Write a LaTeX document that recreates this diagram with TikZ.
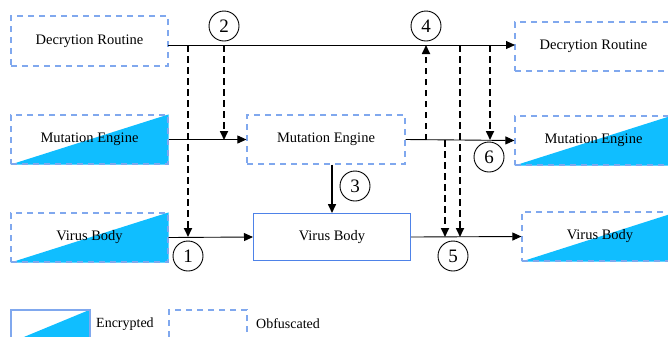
\documentclass[tikz,border=0pt]{standalone}
\usepackage{fontspec}
\setmainfont{Liberation Serif}
\usetikzlibrary{arrows.meta,backgrounds}
\definecolor{dashblue}{RGB}{128,168,238}
\definecolor{solidblue}{RGB}{78,130,232}
\definecolor{encfill}{RGB}{16,190,255}
\tikzset{
  obox/.style={draw=dashblue, line width=1.2bp, dash pattern=on 6bp off 5bp, minimum height=49bp, minimum width=157bp, inner sep=0pt, font=\fontsize{14.5bp}{17bp}\selectfont},
  sbox/.style={draw=solidblue, line width=1bp, minimum height=47bp, minimum width=157bp, inner sep=0pt, font=\fontsize{14.5bp}{17bp}\selectfont},
  num/.style={draw, circle, line width=0.9bp, minimum size=30bp, inner sep=0pt, font=\fontsize{19bp}{20bp}\selectfont},
  flow/.style={line width=0.9bp, -{Triangle[length=9bp,width=8bp]}},
  dflow/.style={line width=1.7bp, dash pattern=on 6.5bp off 4.5bp, -{Triangle[length=9bp,width=8bp]}},
  thick3/.style={line width=1.6bp, -{Triangle[length=9bp,width=8bp]}},
  enc/.style={fill=encfill},
  lbl/.style={anchor=west, inner sep=0pt, font=\fontsize{14bp}{17bp}\selectfont}
}
\begin{document}
\begin{tikzpicture}[x=1bp,y=-1bp]
\useasboundingbox (0,0) rectangle (668,336);
% boxes
\node[obox, minimum height=50bp] (dr1) at (89.5,41) {Decrytion Routine};
\node[obox] (me1) at (89.5,139.5) {Mutation Engine};
\node[obox] (vb1) at (89.5,237.5) {Virus Body};
\node[obox, minimum width=158bp] (me2) at (326,139.5) {Mutation Engine};
\node[sbox] (vb2) at (332,237) {Virus Body};
\node[obox] (dr3) at (593.5,46.5) {Decrytion Routine};
\node[obox] (me3) at (593.5,140.5) {Mutation Engine};
\node[obox, minimum width=156bp] (vb3) at (600,236.5) {Virus Body};
% legend
\node[draw=dashblue, line width=1.1bp, minimum width=79bp, minimum height=32bp, inner sep=0pt] (leg1) at (50.5,326) {};
\node[draw=dashblue, line width=1.2bp, dash pattern=on 6bp off 5bp, minimum width=78bp, minimum height=32bp, inner sep=0pt] (leg2) at (208,326) {};
\node[lbl] (t1) at (96,324) {Encrypted};
\node[lbl] (t2) at (256,324) {Obfuscated};
% triangles
\begin{scope}[on background layer]
\foreach \b in {me1,vb1,me3,vb3,leg1}
  \fill[enc] (\b.south west) -- (\b.north east) -- (\b.south east) -- cycle;
\end{scope}
% coordinates for the main lines
\coordinate (ty1) at (168,45);
\coordinate (ty2) at (515,45);
\coordinate (a1) at (188,45);
\coordinate (a2) at (224,45);
\coordinate (a4) at (426,45);
\coordinate (a5) at (460,45);
\coordinate (a6) at (490,45);
\coordinate (m2) at (224,140);
\coordinate (m4) at (426,140);
\coordinate (m5) at (445,140);
\coordinate (m6) at (490,140);
\coordinate (b1) at (188,237);
\coordinate (b5) at (445,237);
\coordinate (b5b) at (460,237);
% solid flows
\draw[flow] (ty1) -- (ty2);
\draw[flow] (me1.east) -- (me2.west);
\draw[flow] (me2.east) -- (me3.west);
\draw[flow] (vb1.east) -- (vb2.west);
\draw[flow] (vb2.east) -- (vb3.west);
\draw[thick3] (me2.south -| vb2.north) -- (vb2.north);
% dashed flows
\draw[dflow] (a1) -- (b1);
\draw[dflow] (a2) -- (m2);
\draw[dflow] (m4) -- (a4);
\draw[dflow] (m5) -- (b5);
\draw[dflow] (a5) -- (b5b);
\draw[dflow] (a6) -- (m6);
% numbers
\node[num] (n1) at (188,256) {1};
\node[num] (n2) at (224,26) {2};
\node[num] (n3) at (355,186) {3};
\node[num] (n4) at (426,26) {4};
\node[num] (n5) at (453,256) {5};
\node[num] (n6) at (489,157) {6};
\end{tikzpicture}
\end{document}
